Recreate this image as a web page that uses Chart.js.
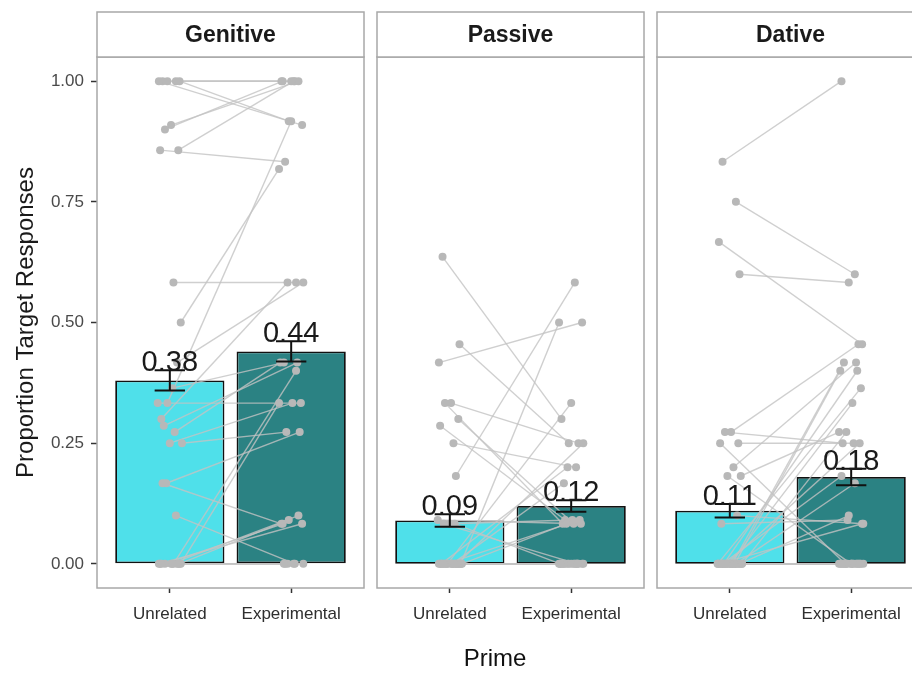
<!DOCTYPE html>
<html>
<head>
<meta charset="utf-8">
<title>Proportion Target Responses by Prime</title>
<script src="https://cdn.jsdelivr.net/npm/chart.js@4.4.1/dist/chart.umd.min.js"></script>
<style>
  html, body { margin: 0; padding: 0; background: #fff; }
  #wrap { position: relative; width: 912px; height: 673px; overflow: hidden;
          font-family: "Liberation Sans", Arial, Helvetica, sans-serif; }
  #wrap canvas { position: absolute; top: 0; }
  #xtitle { position: absolute; left: 395px; width: 200px; top: 643px; line-height: 30px;
            text-align: center; font-size: 24px; color: #111; }
</style>
</head>
<body>
<div id="wrap">
  <canvas id="pGen" width="372" height="673" style="left:0px"></canvas>
  <canvas id="pPas" width="280" height="673" style="left:372px"></canvas>
  <canvas id="pDat" width="280" height="673" style="left:652px"></canvas>
  <div id="xtitle">Prime</div>
</div>
<script>
// ---- data ----
const facets = ['Genitive', 'Passive', 'Dative'];
const primes = ['Unrelated', 'Experimental'];
const yTickValues = [0, 0.25, 0.5, 0.75, 1];

// condition means and standard errors
const genitiveMeans = [0.38, 0.44];
const genitiveSE = [0.021, 0.021];
const passiveMeans = [0.09, 0.12];
const passiveSE = [0.013, 0.012];
const dativeMeans = [0.11, 0.18];
const dativeSE = [0.014, 0.017];

// per-participant proportions (same index = same participant)
const genitiveUnrelated = [1, 1, 1, 1, 0.909, 0.9, 0.857, 0.857, 0.583, 0.5, 0.333, 0.417, 0.3, 0.364, 0.286, 0.273, 0.333,
  0.25, 0.25, 0.167, 0.167, 0.1, 0, 0, 0, 0, 0, 0, 0, 0, 1, 0, 0, 0];
const genitiveExperimental = [1, 1, 0.909, 0.917, 1, 1, 1, 0.833, 0.583, 0.818, 0.917, 0.583, 0.583, 0.417, 0.417, 0.417, 0.333,
  0.333, 0.273, 0.273, 0.083, 0, 0.083, 0.091, 0.1, 0.083, 0, 0, 0.4, 0.333, 1, 0, 0, 0];

const passiveUnrelated = [0.636, 0.182, 0.417, 0.455, 0.333, 0.333, 0.3, 0.286, 0.25, 0, 0, 0, 0, 0, 0.083, 0.083, 0.091, 0.083,
  0, 0, 0, 0, 0, 0, 0, 0, 0, 0, 0, 0, 0, 0, 0, 0, 0, 0];
const passiveExperimental = [0.3, 0.583, 0.5, 0.25, 0.25, 0.083, 0.083, 0.091, 0.2, 0.5, 0.333, 0.25, 0.2, 0.167, 0, 0, 0.083, 0.091,
  0.083, 0.091, 0, 0, 0, 0, 0, 0, 0, 0, 0, 0, 0, 0, 0, 0, 0, 0];

const dativeUnrelated = [0.833, 0.75, 0.667, 0.6, 0.273, 0.273, 0.25, 0.25, 0.2, 0.182, 0.182, 0.1, 0.083, 0, 0, 0, 0, 0, 0, 0,
  0, 0, 0, 0, 0, 0, 0, 0, 0, 0, 0, 0, 0, 0, 0, 0, 0, 0, 0, 0, 0];
const dativeExperimental = [1, 0.6, 0.455, 0.583, 0.455, 0.25, 0.25, 0, 0.417, 0.273, 0, 0.083, 0.091, 0.417, 0.4, 0.4, 0.364,
  0.333, 0.273, 0.25, 0.182, 0.167, 0.083, 0.1, 0, 0, 0, 0, 0, 0, 0, 0, 0, 0, 0, 0, 0, 0, 0, 0, 0];

// ---- drawing ----
const FONT = '"Liberation Sans", Arial, Helvetica, sans-serif';
const BAR_COLORS = ['#4fe0ea', '#2b8283'];
// fixed horizontal spread so overlapping participants stay visible
const JITTER = [-0.06, 0.05, -0.09, 0.08, 0.01, -0.04, 0.07, -0.08, 0.03, 0.09,
                -0.02, 0.06, -0.07, 0.02, -0.05, 0.04, -0.1, 0.0, 0.1, -0.03];

const panelFrame = {
  id: 'panelFrame',
  afterDraw(chart, args, opts) {
    const { ctx, chartArea: a } = chart;
    const stripTop = 12;
    ctx.save();
    ctx.strokeStyle = '#a8a8a8';
    ctx.lineWidth = 1.5;
    ctx.strokeRect(a.left, a.top, a.right - a.left, a.bottom - a.top);
    ctx.fillStyle = '#ffffff';
    ctx.fillRect(a.left, stripTop, a.right - a.left, a.top - stripTop);
    ctx.strokeRect(a.left, stripTop, a.right - a.left, a.top - stripTop);
    ctx.fillStyle = '#1a1a1a';
    ctx.font = 'bold 23px ' + FONT;
    ctx.textAlign = 'center';
    ctx.textBaseline = 'middle';
    ctx.fillText(opts.title, (a.left + a.right) / 2, (stripTop + a.top) / 2 + 1);
    ctx.restore();
  }
};

const meanMarks = {
  id: 'meanMarks',
  afterDatasetsDraw(chart, args, opts) {
    const { ctx } = chart;
    const xs = chart.scales.x, ys = chart.scales.y;
    ctx.save();
    opts.means.forEach((m, i) => {
      const cx = xs.getPixelForValue(i + 1);
      const half = xs.getPixelForValue(i + 1 + 0.125) - cx;
      const yt = ys.getPixelForValue(m + opts.se[i]);
      const yb = ys.getPixelForValue(m - opts.se[i]);
      ctx.strokeStyle = '#111';
      ctx.lineWidth = 2;
      ctx.beginPath();
      ctx.moveTo(cx, yt); ctx.lineTo(cx, yb);
      ctx.moveTo(cx - half, yt); ctx.lineTo(cx + half, yt);
      ctx.moveTo(cx - half, yb); ctx.lineTo(cx + half, yb);
      ctx.stroke();
      ctx.fillStyle = '#1a1a1a';
      ctx.font = '29px ' + FONT;
      ctx.textAlign = 'center';
      ctx.textBaseline = 'alphabetic';
      ctx.fillText(m.toFixed(2), cx, yt + 1);
    });
    ctx.restore();
  }
};

function makePanel(id, title, means, se, unrel, expt, showY, padding) {
  const pairs = unrel.map((u, i) => [
    { x: 1 + JITTER[i % JITTER.length], y: u },
    { x: 2 + JITTER[(i + 7) % JITTER.length], y: expt[i] }
  ]);
  const lineSets = pairs.map(p => ({
    type: 'line',
    data: p,
    borderColor: 'rgba(195,195,195,0.8)',
    borderWidth: 1.4,
    pointRadius: 0,
    fill: false,
    order: 2
  }));
  const points = [];
  pairs.forEach(p => { points.push(p[0], p[1]); });

  return new Chart(document.getElementById(id), {
    type: 'bar',
    data: {
      datasets: [
        {
          type: 'bar',
          data: means.map((m, i) => ({ x: i + 1, y: m })),
          backgroundColor: BAR_COLORS,
          borderColor: '#111',
          borderWidth: 1.8,
          borderSkipped: false,
          categoryPercentage: 0.9,
          barPercentage: 1.0,
          order: 3
        },
        ...lineSets,
        {
          type: 'line',
          data: points,
          showLine: false,
          pointRadius: 4,
          pointBorderWidth: 0,
          pointBackgroundColor: '#b8b8b8',
          pointBorderColor: '#b8b8b8',
          order: 1
        }
      ]
    },
    options: {
      responsive: false,
      animation: false,
      devicePixelRatio: 1,
      layout: { padding: padding },
      plugins: {
        legend: { display: false },
        tooltip: { enabled: false },
        panelFrame: { title: title },
        meanMarks: { means: means, se: se }
      },
      scales: {
        x: {
          type: 'linear',
          min: 0.4,
          max: 2.6,
          offset: false,
          afterBuildTicks: (axis) => { axis.ticks = [{ value: 1 }, { value: 2 }]; },
          afterFit: (axis) => { axis.height = 85; },
          ticks: {
            callback: (v) => primes[v - 1],
            autoSkip: false,
            maxRotation: 0,
            padding: 11,
            color: '#2e2e2e',
            font: { family: FONT, size: 17 }
          },
          grid: { display: true, offset: false, drawOnChartArea: false, drawTicks: true,
                  tickLength: 5, tickWidth: 1.5, tickColor: '#333', color: 'transparent' },
          border: { display: false }
        },
        y: {
          display: showY,
          min: -0.05,
          max: 1.05,
          afterBuildTicks: (axis) => { axis.ticks = yTickValues.map(v => ({ value: v })); },
          afterFit: (axis) => { if (showY) axis.width = 97; },
          ticks: {
            callback: (v) => Number(v).toFixed(2),
            padding: 7,
            color: '#4a4a4a',
            font: { family: FONT, size: 17 }
          },
          grid: { display: true, drawOnChartArea: false, drawTicks: true,
                  tickLength: 6, tickWidth: 1.5, tickColor: '#333', color: 'transparent' },
          border: { display: false },
          title: {
            display: showY,
            text: 'Proportion Target Responses',
            color: '#1a1a1a',
            font: { family: FONT, size: 24 },
            padding: { top: 12, bottom: 0 }
          }
        }
      }
    },
    plugins: [panelFrame, meanMarks]
  });
}

makePanel('pGen', facets[0], genitiveMeans, genitiveSE, genitiveUnrelated, genitiveExperimental, true,
  { left: 0, right: 8, top: 57, bottom: 0 });
makePanel('pPas', facets[1], passiveMeans, passiveSE, passiveUnrelated, passiveExperimental, false,
  { left: 5, right: 8, top: 57, bottom: 0 });
makePanel('pDat', facets[2], dativeMeans, dativeSE, dativeUnrelated, dativeExperimental, false,
  { left: 5, right: 8, top: 57, bottom: 0 });
</script>
</body>
</html>
